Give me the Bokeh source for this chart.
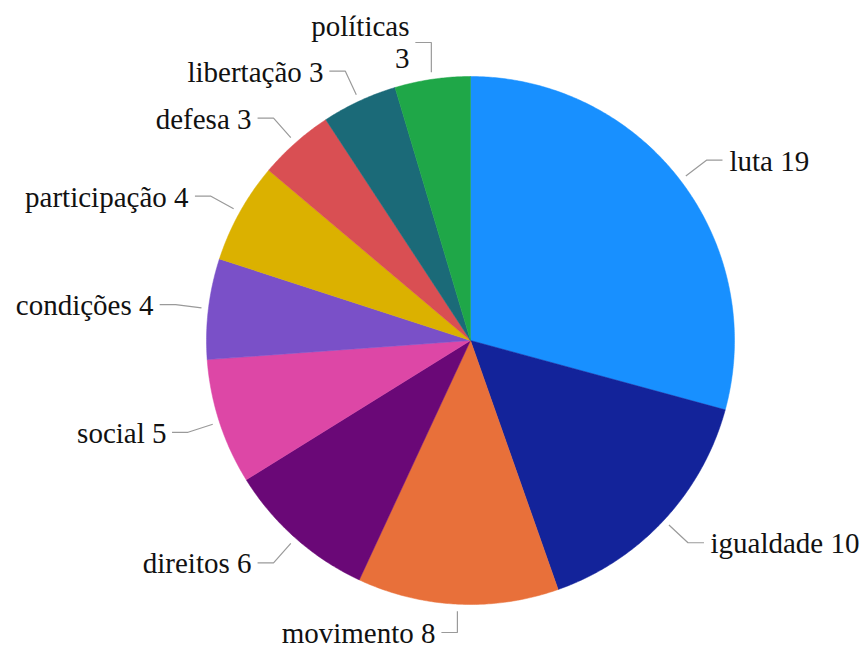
import math
from bokeh.plotting import figure
from bokeh.models import ColumnDataSource
from bokeh.core.properties import value
from bokeh.embed import file_html
from bokeh.resources import INLINE

categories = ["luta", "igualdade", "movimento", "direitos", "social",
              "condições", "participação", "defesa", "libertação", "políticas"]
values = [19, 10, 8, 6, 5, 4, 4, 3, 3, 3]
colors = ["#1890ff", "#13239a", "#e8703a", "#6a0877", "#dd47a6",
          "#7a50c8", "#dbb100", "#d94f53", "#1b6a78", "#1fa748"]

W, H = 867, 648
cx, cy = 470, H - 340
R = 264
FONT = value("Liberation Serif")
FSIZE = "29px"

p = figure(width=W, height=H, x_range=(0, W), y_range=(0, H),
           output_backend="svg", toolbar_location=None, min_border=0)
p.axis.visible = False
p.grid.visible = False
p.outline_line_color = None
p.background_fill_color = "white"
p.border_fill_color = "white"

total = sum(values)
starts, ends, mids = [], [], []
cum = 0
for v in values:
    a0 = math.pi / 2 - 2 * math.pi * cum / total
    cum += v
    a1 = math.pi / 2 - 2 * math.pi * cum / total
    starts.append(a0)
    ends.append(a1)
    mids.append((a0 + a1) / 2)

# slice outlines built from the angles
xs, ys = [], []
for a0, a1 in zip(starts, ends):
    n = max(8, int(abs(a1 - a0) * 120))
    px, py = [cx], [cy]
    for k in range(n + 1):
        a = a0 + (a1 - a0) * k / n
        px.append(cx + R * math.cos(a))
        py.append(cy + R * math.sin(a))
    xs.append(px)
    ys.append(py)

src = ColumnDataSource(dict(xs=xs, ys=ys, color=colors, name=categories))
p.patches(xs="xs", ys="ys", fill_color="color", line_color="color",
          line_width=0.5, source=src)

lx, ly, tx, ty, tt = [], [], [], [], []
rx, ry, rt = [], [], []
for cat, v, m in zip(categories, values, mids):
    c, s = math.cos(m), math.sin(m)
    x0, y0 = cx + (R + 7) * c, cy + (R + 7) * s
    vertical = abs(c) < 0.2
    if vertical:
        x1, y1 = x0, cy + (R + (34 if s > 0 else 28)) * (1 if s > 0 else -1)
    else:
        x1, y1 = cx + (R + 33) * c, cy + (R + 33) * s
    side = 1 if c >= 0 else -1
    x2 = x1 + side * 16
    lx.append([x0, x1, x2])
    ly.append([y0, y1, y1])
    if vertical and s > 0:
        parts = [(cat, y1 + 17), (str(v), y1 - 16)]
    else:
        parts = [(f"{cat} {v}", y1)]
    for txt, yy in parts:
        if side > 0:
            tx.append(round(x2 + 7)); ty.append(round(yy)); tt.append(txt)
        else:
            rx.append(round(x2 - 6)); ry.append(round(yy)); rt.append(txt)

p.multi_line(xs=lx, ys=ly, line_color="#9a9a9a", line_width=1.2)
p.text(x=tx, y=ty, text=tt, text_align="left", text_baseline="middle",
       text_font=FONT, text_font_size=FSIZE, text_color="#111111")
p.text(x=rx, y=ry, text=rt, text_align="right", text_baseline="middle",
       text_font=FONT, text_font_size=FSIZE, text_color="#111111")

open("out.html", "w", encoding="utf-8").write(file_html(p, INLINE))
